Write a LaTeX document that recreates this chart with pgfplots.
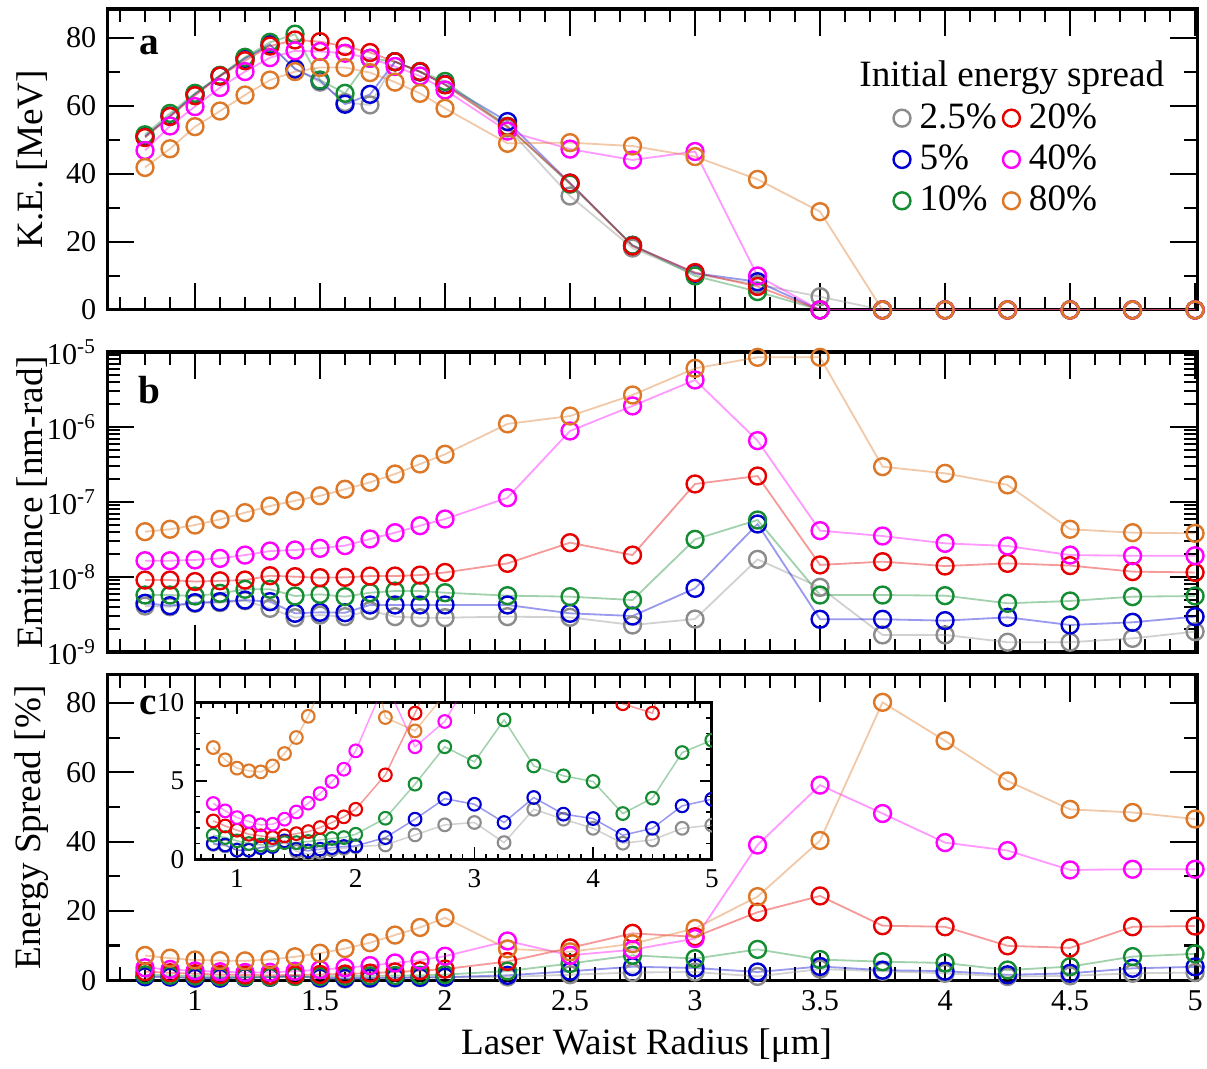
\documentclass[border=0pt]{standalone}
\usepackage{fontspec}
\setmainfont{Liberation Serif}
\usepackage{pgfplots}
\usepackage{pgfplotstable}
\pgfplotsset{compat=1.18}

\definecolor{cgy}{RGB}{140,140,140}
\definecolor{cbl}{RGB}{0,0,210}
\definecolor{cgr}{RGB}{20,140,50}
\definecolor{crd}{RGB}{230,0,0}
\definecolor{cmg}{RGB}{255,0,255}
\definecolor{cor}{RGB}{220,120,40}

% panel a: kinetic energy [MeV]
\pgfplotstableread{
x    gy   bl   gr   rd   mg   or
0.8  51   51   51.5 50.7 46.9 41.9
0.9  57   57   57.8 56.9 54.1 47.4
1.0  63.5 63.5 63.7 63   59.8 53.9
1.1  68.8 68.8 69   68.8 65.4 58.5
1.2  74   74   74.3 73.3 70.1 63.2
1.3  78   78   78.7 77.6 74.2 67.6
1.4  71   70.8 81.1 79.4 76.2 70.1
1.5  67   67.5 67.6 78.9 76   71.3
1.6  61   60.5 63.7 77.5 75.5 71.3
1.7  60.3 63.4 74   75.7 74   69.8
1.8  73   73   73   73   71.6 67
1.9  70   70   70.1 70.1 68.8 63.7
2.0  66.3 66.3 67.2 66.2 64.7 59.3
2.25 53.5 55.4 54   53.9 52.6 49
2.5  33.5 37.3 37   37.3 47.3 49.2
2.75 18.2 19   19   18.8 44.1 48.2
3.0  10.5 10.8 10   11   46.6 45.1
3.25 7.5  8.3  5.4  6.9  10   38.4
3.5  3.9  0    0    0    0    28.9
3.75 0    0    0    0    0    0
4.0  0    0    0    0    0    0
4.25 0    0    0    0    0    0
4.5  0    0    0    0    0    0
4.75 0    0    0    0    0    0
5.0  0    0    0    0    0    0
}\tabKE

% panel b: emittance
\pgfplotstableread{
x    gy      bl      gr      rd      mg      or
0.8  4.10e-9 4.46e-9 5.75e-9 9.1e-9  1.65e-8 4.02e-8
0.9  4.02e-9 4.15e-9 5.75e-9 9.1e-9  1.65e-8 4.33e-8
1.0  4.46e-9 4.55e-9 5.58e-9 8.7e-9  1.69e-8 4.93e-8
1.1  4.55e-9 4.69e-9 6.05e-9 8.9e-9  1.77e-8 5.87e-8
1.2  4.83e-9 4.93e-9 6.86e-9 9.1e-9  1.96e-8 7.21e-8
1.3  3.82e-9 4.69e-9 6.86e-9 1.04e-8 2.22e-8 8.85e-8
1.4  2.87e-9 3.28e-9 5.58e-9 1.01e-8 2.29e-8 1.04e-7
1.5  3.11e-9 3.38e-9 5.87e-9 9.8e-9  2.41e-8 1.21e-7
1.6  2.96e-9 3.34e-9 5.47e-9 9.9e-9  2.62e-8 1.48e-7
1.7  3.56e-9 4.24e-9 6.18e-9 1.03e-8 3.21e-8 1.83e-7
1.8  2.96e-9 4.24e-9 6.5e-9  1.03e-8 3.90e-8 2.36e-7
1.9  2.87e-9 4.24e-9 6.5e-9  1.06e-8 4.83e-8 3.21e-7
2.0  2.87e-9 4.24e-9 6.18e-9 1.15e-8 5.93e-8 4.33e-7
2.25 2.96e-9 4.24e-9 5.64e-9 1.52e-8 1.14e-7 1.10e-6
2.5  2.90e-9 3.28e-9 5.47e-9 2.87e-8 8.85e-7 1.40e-6
2.75 2.29e-9 3.02e-9 4.93e-9 1.96e-8 1.91e-6 2.67e-6
3.0  2.75e-9 7.06e-9 3.18e-8 1.74e-7 4.24e-6 6.05e-6
3.25 1.72e-8 5.09e-8 5.75e-8 2.22e-7 6.58e-7 8.49e-6
3.5  7.28e-9 2.73e-9 5.75e-9 1.45e-8 4.15e-8 8.49e-6
3.75 1.69e-9 2.73e-9 5.75e-9 1.60e-8 3.52e-8 2.96e-7
4.0  1.69e-9 2.62e-9 5.64e-9 1.40e-8 2.81e-8 2.41e-7
4.25 1.35e-9 2.90e-9 4.46e-9 1.52e-8 2.59e-8 1.69e-7
4.5  1.35e-9 2.29e-9 4.79e-9 1.42e-8 1.96e-8 4.33e-8
4.75 1.52e-9 2.49e-9 5.47e-9 1.18e-8 1.92e-8 3.90e-8
5.0  1.87e-9 2.96e-9 5.58e-9 1.15e-8 1.92e-8 3.82e-8
}\tabEM

% panel c: energy spread [%]
\pgfplotstableread{
x    gy   bl   gr   rd   mg   or
0.8  0.95 1.0  1.53 2.44 3.55 7.11
0.9  0.85 0.91 1.38 2.12 3.08 6.33
1.0  0.6  0.57 1.17 1.85 2.65 5.80
1.1  0.6  0.57 1.0  1.59 2.40 5.63
1.2  0.75 0.74 0.91 1.49 2.19 5.56
1.3  0.85 0.81 0.91 1.38 2.23 5.94
1.4  1.1  1.17 1.06 1.49 2.55 6.73
1.5  0.5  0.64 1.06 1.63 3.01 7.75
1.6  0.32 0.53 1.13 1.76 3.57 9.1
1.7  0.45 0.64 1.23 2.02 4.18 10.8
1.8  0.6  0.74 1.32 2.34 4.95 13.0
1.9  0.7  0.81 1.38 2.70 5.73 15.2
2.0  0.8  0.85 1.59 3.18 6.90 18.0
2.25 0.91 1.38 2.61 5.37 11.3 9.02
2.5  1.55 2.55 4.78 9.3  7.16 8.17
2.75 2.19 3.86 7.16 13.5 8.77 10.5
3.0  2.34 3.5  6.2  12.5 12.0 14.9
3.25 1.06 2.34 8.87 19.6 39.0 24.1
3.5  3.18 3.93 5.94 24.3 56.3 40.3
3.75 2.55 2.87 5.31 15.7 48.1 80.2
4.0  1.97 2.59 4.95 15.4 39.7 69.1
4.25 1.02 1.53 2.91 9.9  37.4 57.5
4.5  1.23 1.97 3.89 9.3  31.8 49.3
4.75 1.97 3.40 6.79 15.4 32.0 48.4
5.0  2.17 3.82 7.58 15.6 32.0 46.5
}\tabES

\pgfplotsset{
  panel/.style={
    scale only axis, width=360.8pt, xmin=0.648, xmax=5.008,
    anchor=north west,
    axis line style={line width=1pt},
    tick align=inside,
    every tick/.style={black, line width=0.7pt},
    major tick length=9pt, minor tick length=4.4pt,
    xtick={1,1.5,...,5}, minor xtick={0.7,0.8,...,5},
    tick label style={font=\fontsize{10}{12}\selectfont},
    /pgf/number format/assume math mode=true,
    label style={font=\fontsize{12.3}{14}\selectfont},
    ylabel style={at={(axis description cs:-0.069,0.5)}, anchor=center},
  },
  ser/.style={color=#1, draw opacity=0.4, line width=0.6pt, mark=o,
    mark size=2.8pt, mark options={draw opacity=1, line width=0.8pt}},
  iser/.style={color=#1, draw opacity=0.4, line width=0.5pt, mark=o,
    mark size=2.1pt, mark options={draw opacity=1, line width=0.7pt}},
}

\begin{document}
\begin{tikzpicture}
\path[use as bounding box] (0,0) rectangle (399.5pt,-353.5pt);

% ---- a ----
\begin{axis}[panel, at={(35.42pt,-2.98pt)}, height=99.6pt,
  ymin=0, ymax=88.5, ytick={0,20,...,80}, minor ytick={10,30,50,70},
  xticklabels={}, ylabel={K.E. [MeV]},
  legend style={draw=none, fill=none, at={(0.721,0.708)}, anchor=north west,
    font=\fontsize{12.3}{14}\selectfont, inner sep=0pt,
    /tikz/every odd column/.append style={column sep=1pt}},
  legend columns=2, legend cell align=left]
  \addlegendimage{only marks, mark=o, color=cgy, mark size=2.8pt, line width=0.8pt}
  \addlegendentry{2.5\%}
  \addlegendimage{only marks, mark=o, color=crd, mark size=2.8pt, line width=0.8pt}
  \addlegendentry{20\%}
  \addlegendimage{only marks, mark=o, color=cbl, mark size=2.8pt, line width=0.8pt}
  \addlegendentry{5\%}
  \addlegendimage{only marks, mark=o, color=cmg, mark size=2.8pt, line width=0.8pt}
  \addlegendentry{40\%}
  \addlegendimage{only marks, mark=o, color=cgr, mark size=2.8pt, line width=0.8pt}
  \addlegendentry{10\%}
  \addlegendimage{only marks, mark=o, color=cor, mark size=2.8pt, line width=0.8pt}
  \addlegendentry{80\%}
  \addplot[ser=cgy, forget plot] table[x=x, y=gy] {\tabKE};
  \addplot[ser=cbl, forget plot] table[x=x, y=bl] {\tabKE};
  \addplot[ser=cgr, forget plot] table[x=x, y=gr] {\tabKE};
  \addplot[ser=crd, forget plot] table[x=x, y=rd] {\tabKE};
  \addplot[ser=cmg, forget plot] table[x=x, y=mg] {\tabKE};
  \addplot[ser=cor, forget plot] table[x=x, y=or] {\tabKE};
  \node[font=\fontsize{12.3}{14}\selectfont] at (rel axis cs:0.830,0.771) {Initial energy spread};
  \node[font=\bfseries\fontsize{13}{15}\selectfont] at (rel axis cs:0.039,0.88) {a};
\end{axis}

% ---- b ----
\begin{axis}[panel, at={(35.42pt,-116.5pt)}, height=99.3pt,
  ymode=log, ymin=1e-9, ymax=1e-5,
  ytick={1e-9,1e-8,1e-7,1e-6,1e-5},
  yticklabels={10\textsuperscript{-9},10\textsuperscript{-8},10\textsuperscript{-7},10\textsuperscript{-6},10\textsuperscript{-5}},
  minor ytick={2e-9,3e-9,4e-9,5e-9,6e-9,7e-9,8e-9,9e-9,
    2e-8,3e-8,4e-8,5e-8,6e-8,7e-8,8e-8,9e-8,
    2e-7,3e-7,4e-7,5e-7,6e-7,7e-7,8e-7,9e-7,
    2e-6,3e-6,4e-6,5e-6,6e-6,7e-6,8e-6,9e-6},
  xticklabels={}, ylabel={Emittance [nm-rad]}]
  \addplot[ser=cgy] table[x=x, y=gy] {\tabEM};
  \addplot[ser=cbl] table[x=x, y=bl] {\tabEM};
  \addplot[ser=cgr] table[x=x, y=gr] {\tabEM};
  \addplot[ser=crd] table[x=x, y=rd] {\tabEM};
  \addplot[ser=cmg] table[x=x, y=mg] {\tabEM};
  \addplot[ser=cor] table[x=x, y=or] {\tabEM};
  \node[font=\bfseries\fontsize{13}{15}\selectfont] at (rel axis cs:0.039,0.873) {b};
\end{axis}

% ---- c ----
\begin{axis}[panel, at={(35.42pt,-223.4pt)}, height=101pt,
  ymin=0, ymax=88.1, ytick={0,20,...,80}, minor ytick={10,30,50,70},
  xticklabels={1,1.5,2,2.5,3,3.5,4,4.5,5},
  xlabel={Laser Waist Radius [μm]}, ylabel={Energy Spread [\%]},
  xlabel style={at={(axis description cs:0.495,-0.213)}, anchor=center}]
  \addplot[ser=cgy] table[x=x, y=gy] {\tabES};
  \addplot[ser=cbl] table[x=x, y=bl] {\tabES};
  \addplot[ser=cgr] table[x=x, y=gr] {\tabES};
  \addplot[ser=crd] table[x=x, y=rd] {\tabES};
  \addplot[ser=cmg] table[x=x, y=mg] {\tabES};
  \addplot[ser=cor] table[x=x, y=or] {\tabES};
  \node[font=\bfseries\fontsize{13}{15}\selectfont] at (rel axis cs:0.038,0.90) {c};
\end{axis}

% ---- inset ----
\begin{axis}[scale only axis, at={(64.5pt,-232.4pt)}, anchor=north west,
  width=171.1pt, height=52pt, xmin=0.645, xmax=5, ymin=0, ymax=10,
  axis background/.style={fill=white},
  axis line style={line width=0.9pt},
  tick align=inside, every tick/.style={black, line width=0.6pt},
  major tick length=4pt, minor tick length=1.8pt,
  xtick={1,2,3,4,5}, minor xtick={0.7,0.8,...,5},
  ytick={0,5,10}, minor ytick={1,2,3,4,6,7,8,9},
  tick label style={font=\fontsize{9}{11}\selectfont},
  /pgf/number format/assume math mode=true,
  clip marker paths=true]
  \addplot[iser=cgy] table[x=x, y=gy] {\tabES};
  \addplot[iser=cbl] table[x=x, y=bl] {\tabES};
  \addplot[iser=cgr] table[x=x, y=gr] {\tabES};
  \addplot[iser=crd] table[x=x, y=rd] {\tabES};
  \addplot[iser=cmg] table[x=x, y=mg] {\tabES};
  \addplot[iser=cor] table[x=x, y=or] {\tabES};
\end{axis}
\end{tikzpicture}
\end{document}
